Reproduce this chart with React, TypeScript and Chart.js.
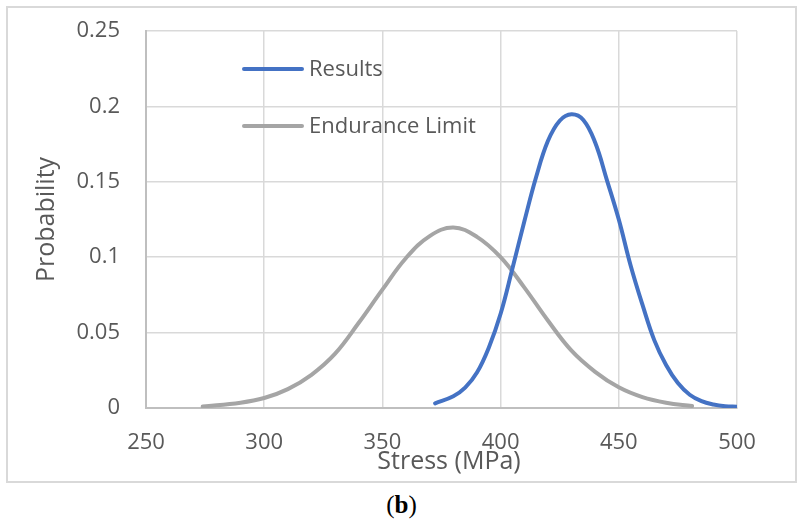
import React, { useEffect, useRef } from 'react';
import { Chart, registerables } from 'chart.js';

Chart.register(...registerables);

// values
const resultsStress = [372.3, 380, 385, 390, 395, 400, 405, 410, 415, 420, 425, 430, 435, 440, 445, 450, 455, 460, 465, 470, 475, 480, 485, 490, 495, 500];
const resultsProb = [0.0031, 0.0078, 0.0135, 0.0235, 0.04, 0.0625, 0.0925, 0.1235, 0.153, 0.177, 0.1905, 0.1948, 0.191, 0.176, 0.151, 0.125, 0.0945, 0.0685, 0.045, 0.0285, 0.0165, 0.0088, 0.0045, 0.0023, 0.0012, 0.0009];

const enduranceStress = [274, 290, 300, 310, 320, 330, 340, 350, 360, 370, 380, 390, 400, 410, 420, 430, 440, 450, 460, 470, 481];
const enduranceProb = [0.001, 0.0035, 0.0066, 0.0125, 0.022, 0.036, 0.0565, 0.0785, 0.0995, 0.114, 0.1197, 0.1135, 0.1, 0.08, 0.058, 0.038, 0.024, 0.0137, 0.0072, 0.0035, 0.0013];

const seriesNames = ['Results', 'Endurance Limit'];
const seriesColors = ['#4472C4', '#A5A5A5'];
const stressTicks = [250, 300, 350, 400, 450, 500];
const probTicks = [0, 0.05, 0.1, 0.15, 0.2, 0.25];
const xTitle = 'Stress (MPa)';
const yTitle = 'Probability';

const FONT = "'Open Sans', sans-serif";
const TEXT = '#595959';

const toPoints = (xs: number[], ys: number[]) => xs.map((x, i) => ({ x, y: ys[i] }));

// legend inside the plot and the x title, placed as in the Excel original
const excelDecor = {
  id: 'excelDecor',
  afterDraw(chart: any) {
    const { ctx } = chart;
    const rows = [69, 126];
    ctx.save();
    chart.data.datasets.forEach((ds: any, i: number) => {
      const y = rows[i];
      ctx.strokeStyle = ds.borderColor;
      ctx.lineWidth = 4;
      ctx.lineCap = 'round';
      ctx.beginPath();
      ctx.moveTo(244, y);
      ctx.lineTo(302, y);
      ctx.stroke();
      ctx.fillStyle = TEXT;
      ctx.font = `22px ${FONT}`;
      ctx.textBaseline = 'middle';
      ctx.textAlign = 'left';
      ctx.fillText(ds.label, 309, y + 1);
    });
    ctx.font = `25px ${FONT}`;
    ctx.textAlign = 'center';
    ctx.fillText(xTitle, 449, 462);
    ctx.restore();
  },
};

const ProbabilityChart = () => {
  const chartRef = useRef<HTMLCanvasElement>(null);

  useEffect(() => {
    const chart = new Chart(chartRef.current as HTMLCanvasElement, {
      type: 'line',
      data: {
        datasets: [
          {
            label: seriesNames[0],
            data: toPoints(resultsStress, resultsProb),
            borderColor: seriesColors[0],
            borderWidth: 4,
            borderCapStyle: 'round',
            pointRadius: 0,
            tension: 0.4,
          },
          {
            label: seriesNames[1],
            data: toPoints(enduranceStress, enduranceProb),
            borderColor: seriesColors[1],
            borderWidth: 4,
            borderCapStyle: 'round',
            pointRadius: 0,
            tension: 0.4,
          },
        ],
      },
      options: {
        animation: false,
        responsive: true,
        maintainAspectRatio: false,
        layout: { padding: { left: 0, right: 66, top: 31, bottom: 0 } },
        scales: {
          x: {
            type: 'linear',
            min: 250,
            max: 500,
            afterBuildTicks: (scale: any) => {
              scale.ticks = stressTicks.map((value) => ({ value }));
            },
            afterFit: (scale: any) => {
              scale.height = 82;
            },
            grid: { color: '#d9d9d9', lineWidth: 1.5, drawTicks: false },
            border: { color: '#bfbfbf', width: 2 },
            ticks: {
              color: TEXT,
              font: { family: FONT, size: 22 },
              padding: 22,
              maxRotation: 0,
            },
          },
          y: {
            min: 0,
            max: 0.25,
            afterBuildTicks: (scale: any) => {
              scale.ticks = probTicks.map((value) => ({ value }));
            },
            afterFit: (scale: any) => {
              scale.width = 146;
            },
            // invisible tick marks give the label gap without padding the top
            grid: {
              color: '#d9d9d9',
              lineWidth: 1.5,
              drawTicks: true,
              tickLength: 26,
              tickColor: 'rgba(0,0,0,0)',
            },
            border: { color: '#bfbfbf', width: 2 },
            ticks: {
              color: TEXT,
              font: { family: FONT, size: 22 },
              padding: 0,
              callback: (v: any) => String(Number(Number(v).toFixed(2))),
            },
            title: {
              display: true,
              text: yTitle,
              color: TEXT,
              font: { family: FONT, size: 25 },
              padding: { top: 32, bottom: 0 },
            },
          },
        },
        plugins: {
          legend: { display: false },
          tooltip: { enabled: false },
        },
      },
      plugins: [excelDecor],
    });

    return () => chart.destroy();
  }, []);

  return (
    <div style={{ position: 'absolute', left: 0, top: 0, width: 803, height: 524, background: '#fff' }}>
      <div
        style={{
          position: 'absolute',
          left: 6,
          top: 6,
          width: 791,
          height: 477,
          border: '2px solid #d9d9d9',
          boxSizing: 'border-box',
        }}
      />
      <div style={{ position: 'absolute', left: 0, top: 0, width: 803, height: 490 }}>
        <canvas ref={chartRef} />
      </div>
      <div
        style={{
          position: 'absolute',
          left: 0,
          top: 490,
          width: 803,
          textAlign: 'center',
          fontFamily: "'Liberation Serif', serif",
          fontSize: 25,
          lineHeight: '30px',
          color: '#000',
        }}
      >
        (<b>b</b>)
      </div>
    </div>
  );
};

export default function App() {
  return <ProbabilityChart />;
}
